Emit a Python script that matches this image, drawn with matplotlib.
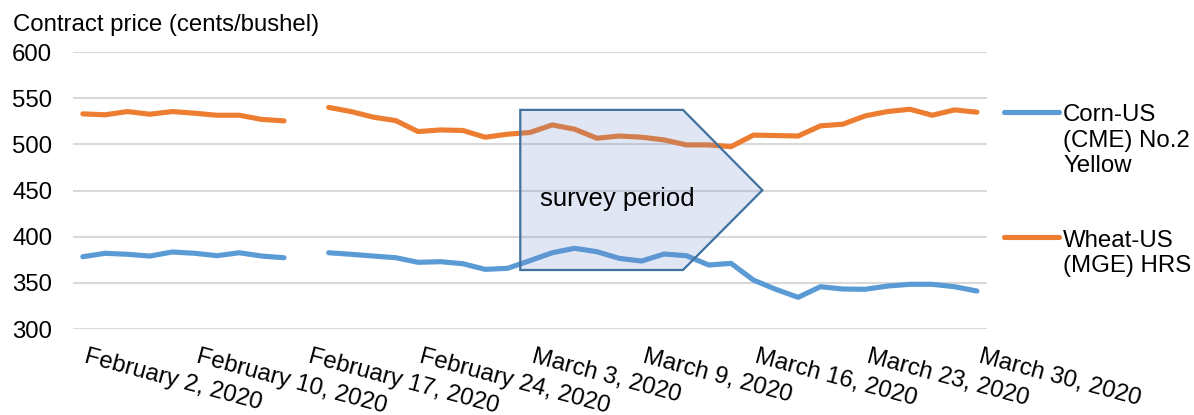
import numpy as np
import matplotlib
matplotlib.use("Agg")
import matplotlib.pyplot as plt
import matplotlib.transforms as mtransforms
from matplotlib.lines import Line2D
from matplotlib.patches import Polygon

plt.rcParams['font.family'] = ['Liberation Sans', 'DejaVu Sans']

# ---- data ----
n_points = 41
tick_positions = [0, 5, 10, 15, 20, 25, 30, 35, 40]
tick_labels = ["February 2, 2020", "February 10, 2020", "February 17, 2020",
               "February 24, 2020", "March 3, 2020", "March 9, 2020",
               "March 16, 2020", "March 23, 2020", "March 30, 2020"]

corn = [378.3, 382.0, 380.9, 379.0, 383.4, 382.0, 379.4, 382.6, 379.0, 377.2,
        np.nan, 382.6, 380.9, 379.0, 377.2, 372.2, 372.9, 370.7, 364.6, 365.7,
        374.0, 382.6, 387.4, 383.7, 376.5, 373.6, 381.2, 379.4, 369.3, 371.1,
        353.0, 343.0, 334.3, 345.8, 343.3, 343.0, 346.5, 348.4, 348.4, 345.8,
        341.1]
wheat = [533.0, 532.0, 535.5, 532.6, 535.5, 533.7, 531.5, 531.5, 527.0, 525.4,
         np.nan, 540.0, 535.5, 529.4, 525.7, 513.8, 515.6, 515.0, 507.7, 511.0,
         512.8, 521.0, 516.4, 506.6, 509.0, 507.7, 504.8, 499.4, 499.4, 497.5,
         510.0, 509.5, 509.0, 520.0, 521.8, 530.8, 535.5, 538.0, 531.5, 537.3,
         534.8]
series_names = ["Corn-US\n(CME) No.2\nYellow", "Wheat-US\n(MGE) HRS"]
series_colors = ["#5b9bd5", "#ed7d31"]
y_ticks = [300, 350, 400, 450, 500, 550, 600]

FS = 17.3
W, H = 1194, 415
fig = plt.figure(figsize=(W / 100, H / 100), dpi=100)
ax = fig.add_axes([73 / W, 1 - 329 / H, (987 - 73) / W, (329 - 52) / H])

x = np.arange(n_points)
ax.plot(x, corn, color=series_colors[0], lw=3.7, solid_capstyle='round', solid_joinstyle='round', zorder=3)
ax.plot(x, wheat, color=series_colors[1], lw=3.7, solid_capstyle='round', solid_joinstyle='round', zorder=3)

ax.set_xlim(-0.44, 40.45)
ax.set_ylim(300, 600)
ax.set_yticks(y_ticks)
ax.set_yticklabels([str(v) for v in y_ticks], fontsize=FS)
ax.grid(axis='y', color='#d9d9d9', lw=1.5)
ax.set_axisbelow(True)
for s in ax.spines.values():
    s.set_visible(False)
ax.tick_params(axis='y', length=0, pad=15)
ax.set_xticks(tick_positions)
ax.set_xticklabels(tick_labels, fontsize=FS, rotation=-15, ha='left', va='top',
                   rotation_mode='anchor')
ax.tick_params(axis='x', length=0, pad=12)
offset = mtransforms.ScaledTranslation(5 / 100, 0, fig.dpi_scale_trans)
for lbl in ax.get_xticklabels():
    lbl.set_transform(lbl.get_transform() + offset)

# survey period arrow shape (annotation)
verts = [(19.57, 537.3), (26.85, 537.3), (30.4, 450.3), (26.85, 363.9), (19.57, 363.9)]
ax.add_patch(Polygon(verts, closed=True, facecolor='#6686c8', alpha=0.2,
                     edgecolor='none', zorder=4))
ax.add_patch(Polygon(verts, closed=True, facecolor='none', edgecolor='#41719c',
                     lw=1.6, zorder=5))
ax.text(20.45, 441, "survey period", fontsize=18.5, ha='left', va='center', zorder=6)

# y-axis title
fig.text(13 / W, 1 - 31.5 / H, "Contract price (cents/bushel)", fontsize=FS, ha='left', va='baseline')

# legend (manual, handle aligned with first text line)
leg_y = [111.7, 237.3]
for name, col, yy in zip(series_names, series_colors, leg_y):
    fig.add_artist(Line2D([1004 / W, 1059 / W], [1 - yy / H, 1 - yy / H], color=col, lw=3.7,
                          solid_capstyle='round', transform=fig.transFigure))
    fig.text(1063 / W, 1 - (yy - 7.5) / H, name, fontsize=FS, ha='left', va='top',
             linespacing=1.2)

fig.savefig("out.png", dpi=100)
